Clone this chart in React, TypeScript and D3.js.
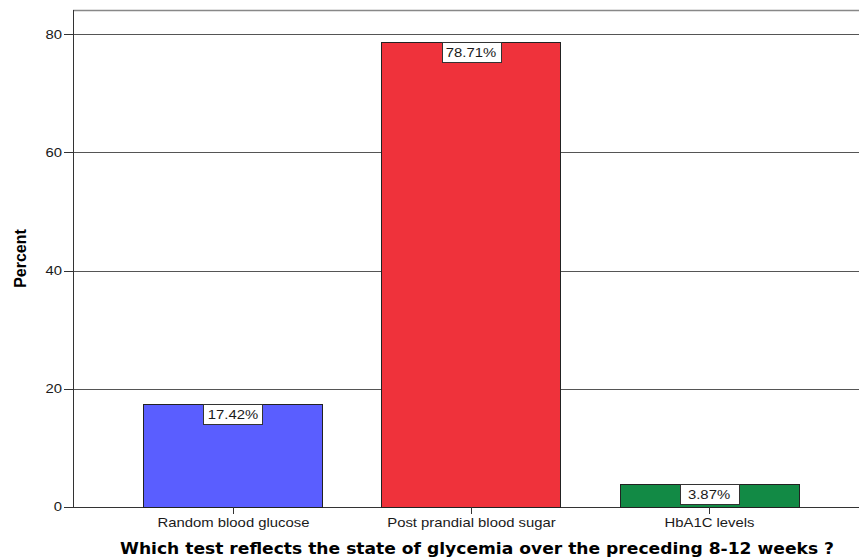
import React from "react";
import * as d3 from "d3";

const categories = ["Random blood glucose", "Post prandial blood sugar", "HbA1C levels"];
const values = [17.42, 78.71, 3.87];
const barColors = ["#5a5eff", "#ef323b", "#128a45"];
const yTicks = [0, 20, 40, 60, 80];
const yTitle = "Percent";
const xTitle = "Which test reflects the state of glycemia over the preceding 8-12 weeks ?";

const W = 859;
const H = 558;
const left = 73;
const top = 10;
const bottom = 507;
const SX = 1.24;
const font = "Arial, 'Liberation Sans', sans-serif";

function WideText(props: {
  x: number;
  y: number;
  anchor: "start" | "middle" | "end";
  size: number;
  children: React.ReactNode;
  dy?: string;
}) {
  return (
    <g transform={`translate(${props.x},${props.y}) scale(${SX},1)`}>
      <text
        x={0}
        y={0}
        dy={props.dy}
        textAnchor={props.anchor}
        fontFamily={font}
        fontSize={props.size}
        fill="#1a1a1a"
      >
        {props.children}
      </text>
    </g>
  );
}

export default function App() {
  const y = d3.scaleLinear().domain([0, 84.1]).range([bottom, top]);
  const x = d3
    .scaleBand<string>()
    .domain(categories)
    .range([left, 869])
    .paddingInner(0.248)
    .paddingOuter(0.296);
  return (
    <svg
      width={W}
      height={H}
      style={{ position: "absolute", left: 0, top: 0, background: "#fff" }}
    >
      <rect x={0} y={0} width={W} height={H} fill="#fff" />
      <line x1={left} x2={W} y1={top + 0.5} y2={top + 0.5} stroke="#888" strokeWidth={1.5} />
      {yTicks.map((t) => (
        <line
          key={"g" + t}
          x1={left}
          x2={W}
          y1={Math.round(y(t)) + 0.5}
          y2={Math.round(y(t)) + 0.5}
          stroke={t === 0 ? "#333" : "#555"}
          strokeWidth={1}
        />
      ))}
      {categories.map((c, i) => (
        <rect
          key={c}
          x={Math.round(x(c)!) + 0.5}
          y={Math.round(y(values[i])) + 0.5}
          width={Math.round(x.bandwidth())}
          height={Math.round(y(0)) - Math.round(y(values[i]))}
          fill={barColors[i]}
          stroke="#222"
          strokeWidth={1}
        />
      ))}
      <line x1={left + 0.5} x2={left + 0.5} y1={top} y2={bottom + 1} stroke="#333" strokeWidth={1} />
      {yTicks.map((t) => (
        <g key={"t" + t}>
          <line
            x1={left - 9}
            x2={left}
            y1={Math.round(y(t)) + 0.5}
            y2={Math.round(y(t)) + 0.5}
            stroke="#333"
          />
          <WideText x={left - 11} y={y(t)} dy="0.36em" anchor="end" size={12}>
            {t}
          </WideText>
        </g>
      ))}
      {categories.map((c) => {
        const cx = Math.round(x(c)! + x.bandwidth() / 2) + 0.5;
        return (
          <g key={"x" + c}>
            <line x1={cx} x2={cx} y1={bottom} y2={bottom + 7} stroke="#333" />
            <WideText x={cx} y={527} anchor="middle" size={12}>
              {c}
            </WideText>
          </g>
        );
      })}
      {categories.map((c, i) => {
        const cx = x(c)! + x.bandwidth() / 2;
        const label = values[i].toFixed(2) + "%";
        const bw = 59;
        const by = Math.round(y(values[i])) + 0.5;
        return (
          <g key={"l" + c}>
            <rect
              x={Math.round(cx - bw / 2) + 0.5}
              y={by}
              width={bw}
              height={20}
              fill="#fff"
              stroke="#333"
              strokeWidth={1}
            />
            <WideText x={cx} y={by + 14.5} anchor="middle" size={12}>
              {label}
            </WideText>
          </g>
        );
      })}
      <text
        transform={`translate(26, ${(top + bottom) / 2}) rotate(-90)`}
        textAnchor="middle"
        fontFamily={font}
        fontWeight="bold"
        fontSize={16}
        fill="#000"
      >
        {yTitle}
      </text>
      <text
        x={477}
        y={554}
        textAnchor="middle"
        fontFamily="'DejaVu Sans', Verdana, sans-serif"
        fontWeight="bold"
        fontSize={15.5}
        textLength={714}
        lengthAdjust="spacingAndGlyphs"
        fill="#000"
      >
        {xTitle}
      </text>
    </svg>
  );
}
